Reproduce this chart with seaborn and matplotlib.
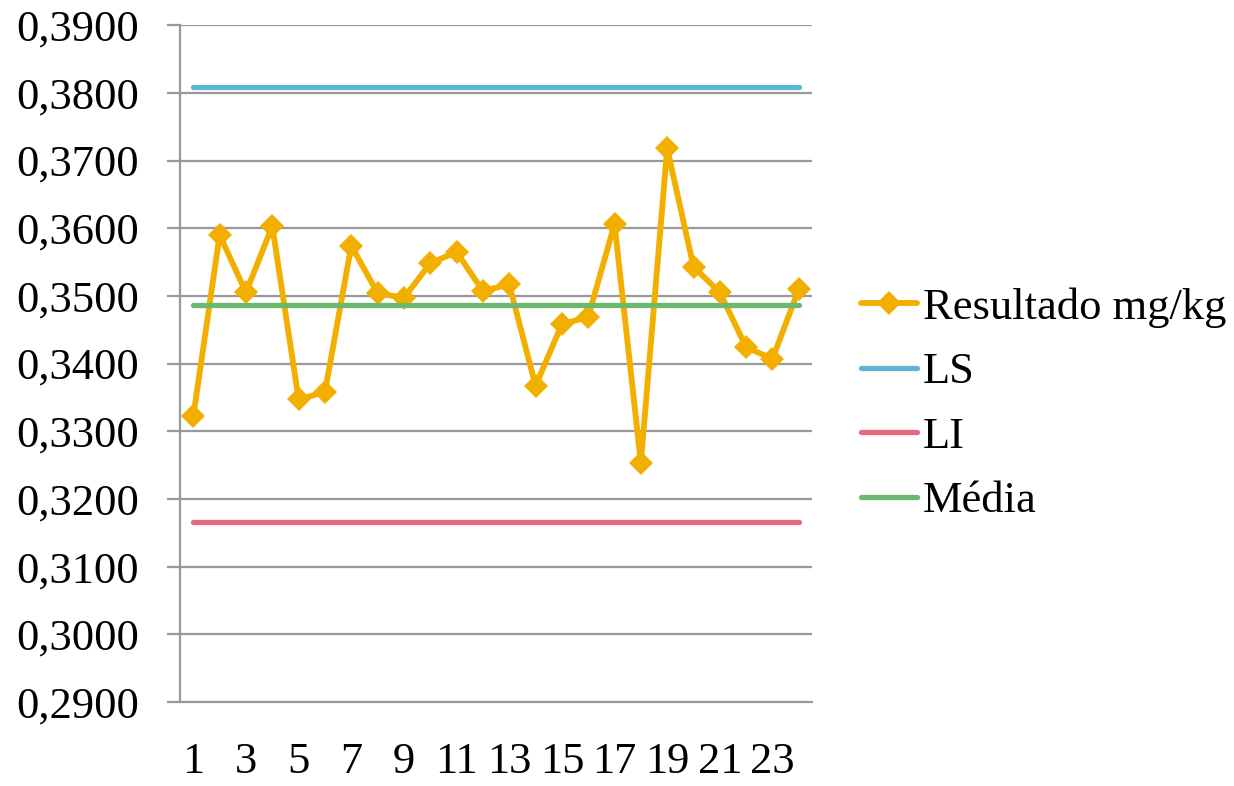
import numpy as np
import pandas as pd
import seaborn as sns
import matplotlib.pyplot as plt
from matplotlib.ticker import FuncFormatter, MultipleLocator

# %% dados
amostra = list(range(1, 25))
resultado = [0.3322, 0.3590, 0.3505, 0.3603, 0.3347, 0.3358, 0.3574, 0.3504,
             0.3497, 0.3548, 0.3565, 0.3507, 0.3517, 0.3367, 0.3458, 0.3469,
             0.3606, 0.3253, 0.3718, 0.3543, 0.3505, 0.3424, 0.3407, 0.3510]
ls_valor = 0.3808
li_valor = 0.3166
media_valor = 0.3487
rotulos_x = [str(i) for i in range(1, 25, 2)]

cores = {"Resultado mg/kg": "#F2AF00", "LS": "#5FB5D0",
         "LI": "#E8697F", "Média": "#6BB96F"}

df = pd.DataFrame({"amostra": amostra, "Resultado mg/kg": resultado,
                   "LS": [ls_valor] * len(amostra),
                   "LI": [li_valor] * len(amostra),
                   "Média": [media_valor] * len(amostra)})

# %% grafico
sns.set_style("white")
plt.rcParams["font.family"] = ["Liberation Serif", "DejaVu Serif"]
plt.rcParams["font.size"] = 32
plt.rcParams["text.color"] = "black"
plt.rcParams["xtick.labelcolor"] = "black"
plt.rcParams["ytick.labelcolor"] = "black"

fig, ax = plt.subplots(figsize=(12.34, 7.86), dpi=100)
fig.subplots_adjust(left=0.146, right=0.658, top=0.968, bottom=0.107)

ax.yaxis.grid(True, color="#999999", linewidth=1.6, zorder=0)
ax.set_axisbelow(True)

sns.lineplot(data=df, x="amostra", y="Resultado mg/kg", ax=ax, color=cores["Resultado mg/kg"],
             linewidth=4.2, marker="D", markersize=12, markeredgewidth=0,
             label="Resultado mg/kg", zorder=3)
for nome in ["LS", "LI", "Média"]:
    sns.lineplot(data=df, x="amostra", y=nome, ax=ax, color=cores[nome],
                 linewidth=3.8, solid_capstyle="round", label=nome, zorder=4)

ax.set_xlim(0.5, 24.5)
ax.set_ylim(0.29, 0.39)
ax.yaxis.set_major_locator(MultipleLocator(0.01))
ax.yaxis.set_major_formatter(FuncFormatter(lambda v, p: f"{v:.4f}".replace(".", ",")))
ax.set_xticks(list(range(1, 25, 2)))
ax.set_xticklabels(rotulos_x)
ax.set_xticks(np.arange(0.5, 25, 1), minor=True)
ax.tick_params(axis="x", which="major", length=0, pad=29)
ax.tick_params(axis="x", which="minor", length=11, width=1.6, color="#999999", direction="out")
ax.tick_params(axis="y", length=9.5, width=1.6, color="#999999", direction="out", pad=20, left=True)
ax.set(xlabel="", ylabel="")

for lado in ["top", "right"]:
    ax.spines[lado].set_visible(False)
for lado in ["left", "bottom"]:
    ax.spines[lado].set_color("#999999")
    ax.spines[lado].set_linewidth(1.6)

ax.legend(loc="center left", bbox_to_anchor=(1.05, 0.44), frameon=False,
          handlelength=1.25, handletextpad=0.14, labelspacing=0.55, borderaxespad=0)

plt.savefig("out.png", dpi=100)
